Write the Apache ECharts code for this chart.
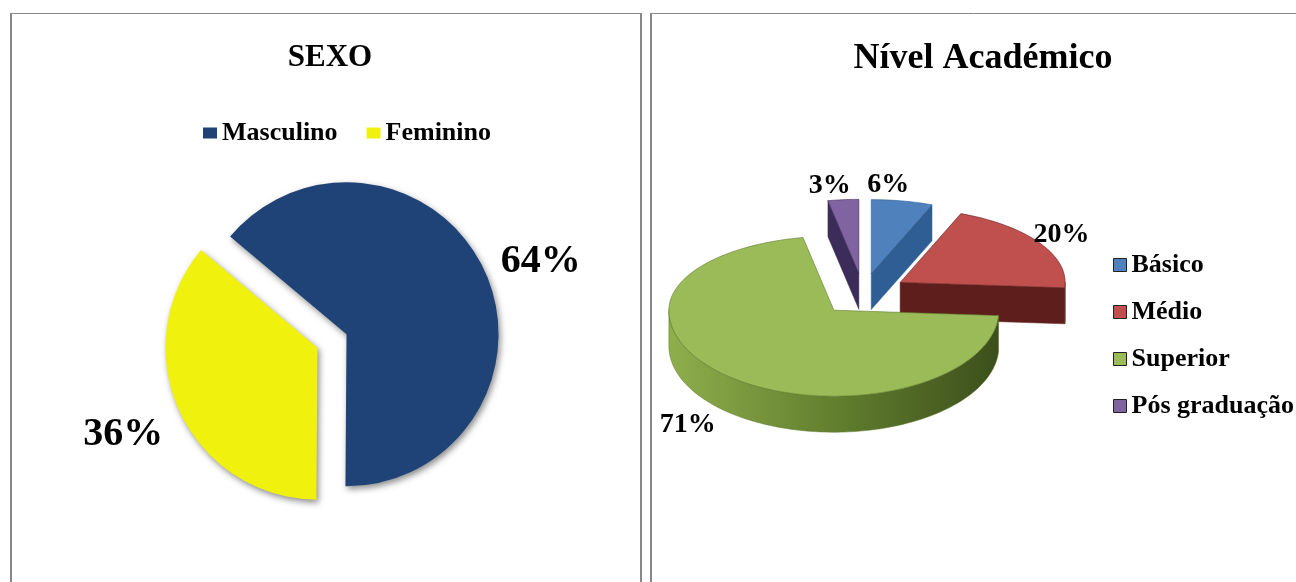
<!DOCTYPE html>
<html>
<head>
<meta charset="utf-8">
<script src="https://cdn.jsdelivr.net/npm/echarts@6/dist/echarts.min.js"></script>
<style>
html,body{margin:0;padding:0;background:#fff;}
#chart{width:1296px;height:582px;}
</style>
</head>
<body>
<div id="chart"></div>
<script>
// ---- data ----
const sexoTitle = 'SEXO';
const sexoCategories = ['Masculino', 'Feminino'];
const sexoValues = [64, 36];

const nivelTitle = 'Nível Académico';
const nivelCategories = ['Básico', 'Médio', 'Superior', 'Pós graduação'];
const nivelValues = [6, 20, 71, 3];

// ---- styles ----
const FONT = "'Liberation Serif', 'Times New Roman', serif";
const sexoColors = ['#1F4377', '#F1F10E'];
const nivelTop = ['#4F81BD', '#C0504D', '#9BBB59', '#8064A2'];
const nivelSide = ['#2F5E94', '#5E1E1C', '#5E7A2C', '#3C2C5A'];
const nivelWallLight = ['#4F81BD', '#7A2624', '#8FAE4C', '#5F4A80'];
// small label nudges (px) for the 3D pie labels, per category
const nivelLabelNudge = [[-17, -6], [8, -2], [-26, -7], [-12, -4]];

// 3D pie geometry (layout constants); front half drawn a bit deeper (perspective)
const P3 = { cx: 863, cy: 293, rx: 165, ryBack: 74, ryFront: 86, h: 36, explode: 44, start: 0 };

// cumulative angles (clockwise from 12 o'clock) derived from values
const nivelTotal = nivelValues.reduce((s, v) => s + v, 0);
const nivelAngles = [];
(function () {
  let acc = P3.start;
  nivelValues.forEach(v => {
    const a = acc, b = acc + v / nivelTotal * 360;
    nivelAngles.push([a, b]);
    acc = b;
  });
})();

function rad(d) { return d * Math.PI / 180; }
function ryAt(cosv) { return cosv >= 0 ? P3.ryBack : P3.ryFront; }
function pt(cx, cy, deg, dy) {
  const cv = Math.cos(rad(deg));
  return [cx + P3.rx * Math.sin(rad(deg)), cy - ryAt(cv) * cv + (dy || 0)];
}
function arc(cx, cy, a, b, dy) {
  const pts = [];
  const n = Math.max(2, Math.ceil((b - a) / 2));
  for (let i = 0; i <= n; i++) pts.push(pt(cx, cy, a + (b - a) * i / n, dy));
  return pts;
}

function makeRender(idx) {
  return function (params, api) {
    const value = api.value(0), a = api.value(1), b = api.value(2);
    const m = (a + b) / 2, s = Math.sin(rad(m)), c = Math.cos(rad(m));
    const ry = ryAt(c);
    const px = P3.cx + P3.explode * s;
    const py = P3.cy - P3.explode * c * ry / P3.rx;
    const H = P3.h;
    const children = [];
    // outer wall (front half only)
    [0, 360, 720].forEach(k => {
      const ws = Math.max(a, 90 + k), we = Math.min(b, 270 + k);
      if (we - ws > 0.01) {
        const pts = arc(px, py, ws, we, 0).concat(arc(px, py, ws, we, H).reverse());
        children.push({
          type: 'polygon', shape: { points: pts },
          style: {
            fill: new echarts.graphic.LinearGradient(0, 0, 1, 0, [
              { offset: 0, color: nivelWallLight[idx] },
              { offset: 0.55, color: nivelSide[idx] },
              { offset: 1, color: '#3c4f1c' }
            ]),
            stroke: nivelSide[idx], lineWidth: 0.5
          }
        });
      }
    });
    // cut faces
    if (Math.sin(rad(a)) < -0.01) {
      const p1 = pt(px, py, a, 0), p2 = pt(px, py, a, H);
      children.push({ type: 'polygon', shape: { points: [[px, py], p1, p2, [px, py + H]] },
        style: { fill: nivelSide[idx], stroke: nivelSide[idx], lineWidth: 0.5 } });
    }
    if (Math.sin(rad(b)) > 0.01) {
      const p1 = pt(px, py, b, 0), p2 = pt(px, py, b, H);
      children.push({ type: 'polygon', shape: { points: [[px, py], p1, p2, [px, py + H]] },
        style: { fill: nivelSide[idx], stroke: nivelSide[idx], lineWidth: 0.5 } });
    }
    // top face
    children.push({
      type: 'polygon', shape: { points: [[px, py]].concat(arc(px, py, a, b, 0)) },
      style: { fill: nivelTop[idx], stroke: nivelSide[idx], lineWidth: 0.6 }
    });
    // label
    const nd = nivelLabelNudge[idx] || [0, 0];
    const lx = px + s * P3.rx * 1.1 + nd[0];
    const ly = py - c * ry * 1.14 + (c < 0 ? H + 12 : 0) + nd[1];
    children.push({
      type: 'text', x: lx, y: ly,
      style: {
        text: value + '%', font: 'bold 28px ' + FONT, fill: '#000',
        align: 'center', verticalAlign: 'middle'
      }
    });
    return { type: 'group', children: children };
  };
}

// drawing order: back slices first, front (largest) slice last
const drawOrder = [3, 0, 1, 2];
const nivelSeries = drawOrder.map(i => ({
  type: 'custom',
  name: nivelCategories[i],
  coordinateSystem: 'none',
  itemStyle: { color: nivelTop[i] },
  silent: true,
  renderItem: makeRender(i),
  data: [[nivelValues[i], nivelAngles[i][0], nivelAngles[i][1]]]
}));

const sexoLabelShift = [-6, 20];

const chart = echarts.init(document.getElementById('chart'), null, { renderer: 'canvas' });
chart.setOption({
  backgroundColor: '#fff',
  animation: false,
  title: [
    { text: sexoTitle, left: 325, top: 37, textAlign: 'center',
      textStyle: { fontFamily: FONT, fontWeight: 'bold', fontSize: 31, color: '#000' } },
    { text: nivelTitle, left: 978, top: 36, textAlign: 'center',
      textStyle: { fontFamily: FONT, fontWeight: 'bold', fontSize: 36, color: '#000' } }
  ],
  legend: [
    { data: sexoCategories, left: 198, top: 115, orient: 'horizontal', icon: 'rect',
      itemWidth: 14, itemHeight: 11, itemGap: 29, selectedMode: false,
      textStyle: { fontFamily: FONT, fontWeight: 'bold', fontSize: 26, color: '#000' } },
    { data: nivelCategories, left: 1108, top: 247, orient: 'vertical', icon: 'rect',
      itemWidth: 13, itemHeight: 13, itemGap: 21, selectedMode: false,
      itemStyle: { borderColor: '#222', borderWidth: 1 },
      textStyle: { fontFamily: FONT, fontWeight: 'bold', fontSize: 26, color: '#000', lineHeight: 26 } }
  ],
  graphic: [
    { type: 'line', shape: { x1: 11, y1: 13.5, x2: 11, y2: 600 }, style: { stroke: '#888', lineWidth: 2 } },
    { type: 'line', shape: { x1: 10, y1: 13.5, x2: 642, y2: 13.5 }, style: { stroke: '#888', lineWidth: 1 } },
    { type: 'line', shape: { x1: 641, y1: 13.5, x2: 641, y2: 600 }, style: { stroke: '#888', lineWidth: 2 } },
    { type: 'line', shape: { x1: 651, y1: 13.5, x2: 651, y2: 600 }, style: { stroke: '#888', lineWidth: 2 } },
    { type: 'line', shape: { x1: 650, y1: 13.5, x2: 1300, y2: 13.5 }, style: { stroke: '#888', lineWidth: 1 } }
  ],
  series: [
    {
      type: 'pie',
      name: sexoTitle,
      center: [332, 341],
      radius: 152,
      startAngle: 140,
      clockwise: true,
      selectedMode: 'multiple',
      selectedOffset: 16,
      emphasis: { disabled: true },
      itemStyle: { shadowBlur: 6, shadowOffsetX: 2, shadowOffsetY: 3, shadowColor: 'rgba(0,0,0,0.45)' },
      label: {
        show: true, position: 'outside', formatter: '{c}%',
        fontFamily: FONT, fontWeight: 'bold', fontSize: 40, color: '#000'
      },
      labelLine: { show: false, length: 8, length2: 4 },
      labelLayout: function (p) { return { dy: sexoLabelShift[p.dataIndex] || 0 }; },
      data: sexoCategories.map((n, i) => ({ name: n, value: sexoValues[i], selected: true,
        itemStyle: { color: sexoColors[i] } }))
    }
  ].concat(nivelSeries)
});
</script>
</body>
</html>
